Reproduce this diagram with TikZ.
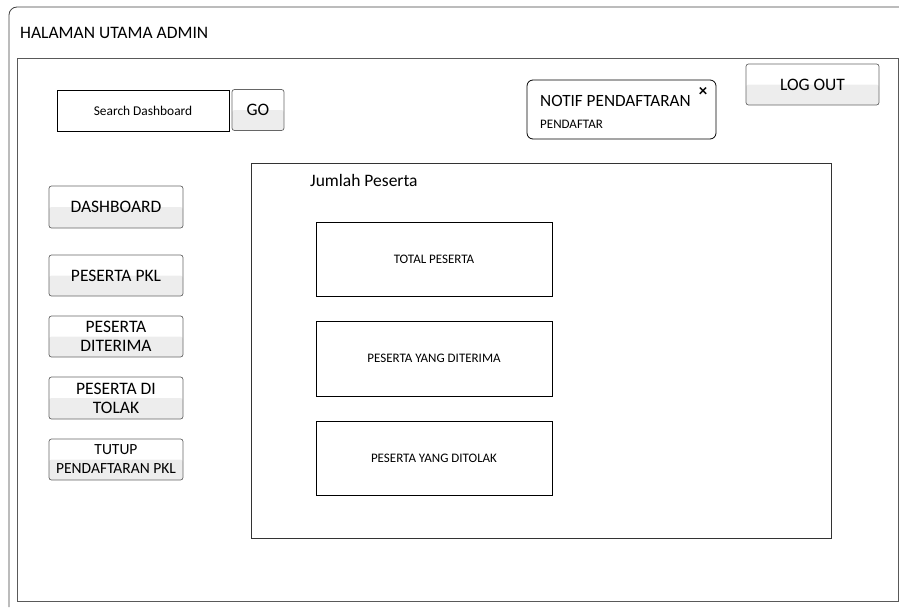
\documentclass[tikz,border=0pt]{standalone}
\usepackage{fontspec}
\setmainfont{Carlito}
\begin{document}
\begin{tikzpicture}[x=1pt,y=-1pt,
  frame/.style={draw=black!80,line width=0.8pt},
  btn/.style={draw=black!60,line width=0.7pt,rounded corners=2.5pt,inner sep=0pt,
    align=center,font=\fontsize{17.5}{19}\selectfont,
    path picture={\fill[black!7] (path picture bounding box.west) rectangle (path picture bounding box.south east);}},
  card/.style={draw=black,line width=0.8pt,inner sep=0pt,font=\fontsize{13}{15}\selectfont},
  lbl/.style={inner sep=0pt,anchor=west}
]
\useasboundingbox (0,0) rectangle (899,608);
% application window
\draw[black!75,line width=0.8pt] (9,607) -- (9,15) arc[start angle=180,end angle=270,radius=8] -- (899,7);
\node[lbl,font=\fontsize{17.5}{19}\selectfont] (title) at (20,33) {HALAMAN UTAMA ADMIN};
% page area
\draw[frame,draw=black!65] (17,58) rectangle (898,601);
% search bar
\node[draw=black,line width=0.8pt,minimum width=172,minimum height=41,inner sep=0pt,
  font=\fontsize{13.4}{15}\selectfont] (search) at (143,110.5) {Search Dashboard};
\node[btn,minimum width=52,minimum height=41] (go) at (258,110) {GO};
% notification
\node[draw=black,line width=0.8pt,rounded corners=6pt,minimum width=189,minimum height=59,inner sep=0pt] (notif) at (621.5,109.5) {};
\node[lbl,font=\fontsize{17.2}{19}\selectfont] (ntitle) at (540,101) {NOTIF PENDAFTARAN};
\node[inner sep=0pt,font=\bfseries\fontsize{17}{18}\selectfont] (nclose) at (703,91.5) {×};
\node[lbl,font=\fontsize{13}{15}\selectfont] (nsub) at (540,124) {PENDAFTAR};
% log out
\node[btn,minimum width=133,minimum height=41] (logout) at (812.5,84.5) {LOG OUT};
% side menu
\node[btn,minimum width=134,minimum height=42] (dash) at (116,207) {DASHBOARD};
\node[btn,minimum width=134,minimum height=41] (pkl) at (116,275.5) {PESERTA PKL};
\node[btn,minimum width=134,minimum height=41] (diterima) at (116,336.5) {PESERTA\\DITERIMA};
\node[btn,minimum width=134,minimum height=42] (ditolak) at (116,398) {PESERTA DI\\TOLAK};
\node[btn,minimum width=134,minimum height=41,font=\fontsize{15.5}{19}\selectfont] (tutup) at (116,459.5) {TUTUP\\PENDAFTARAN PKL};
% participant summary
\draw[frame] (251,163) rectangle (831,538);
\node[lbl,font=\fontsize{17.5}{19}\selectfont] (jumlah) at (310,180) {Jumlah Peserta};
\node[card,minimum width=236,minimum height=74] (total) at (434,259) {TOTAL PESERTA};
\node[card,minimum width=236,minimum height=75] (terima) at (434,358.5) {PESERTA YANG DITERIMA};
\node[card,minimum width=236,minimum height=74] (tolak) at (434,458) {PESERTA YANG DITOLAK};
\end{tikzpicture}
\end{document}
